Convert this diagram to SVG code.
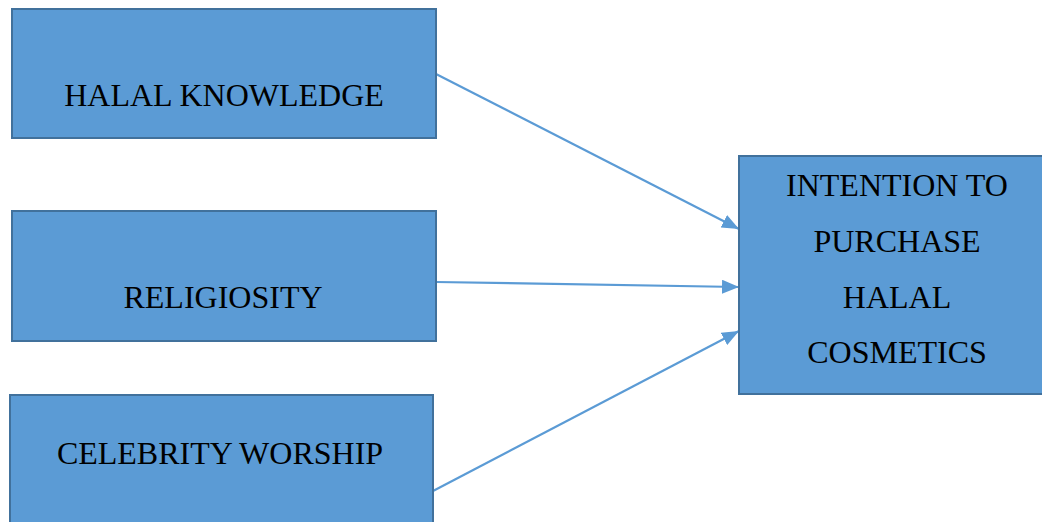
<svg xmlns="http://www.w3.org/2000/svg" width="1042" height="522" viewBox="0 0 1042 522">
<style>
.box{fill:#5B9BD5;stroke:#41719C;stroke-width:2}
.lbl{font-family:"Liberation Serif","Times New Roman",serif;font-size:32px;fill:#000;text-anchor:middle}
.edge{stroke:#5B9BD5;stroke-width:2.2;fill:none}
</style>
<defs>
<marker id="ah" markerUnits="userSpaceOnUse" markerWidth="18" markerHeight="14" refX="17" refY="7" orient="auto">
<path d="M0,0 L17,7 L0,14 Z" fill="#5B9BD5"/>
</marker>
</defs>
<rect width="1042" height="522" fill="#fff"/>
<g id="connectors">
<line class="edge" x1="436" y1="74" x2="739" y2="229" marker-end="url(#ah)"/>
<line class="edge" x1="436" y1="282" x2="739" y2="287" marker-end="url(#ah)"/>
<line class="edge" x1="433" y1="491" x2="739" y2="331" marker-end="url(#ah)"/>
</g>
<g id="halal-knowledge">
<rect class="box" x="12" y="9" width="424" height="129"/>
<text class="lbl" x="224" y="106">HALAL KNOWLEDGE</text>
</g>
<g id="religiosity">
<rect class="box" x="12" y="211" width="424" height="130"/>
<text class="lbl" x="223" y="308">RELIGIOSITY</text>
</g>
<g id="celebrity-worship">
<rect class="box" x="10" y="395" width="423" height="140"/>
<text class="lbl" x="220" y="464">CELEBRITY WORSHIP</text>
</g>
<g id="intention">
<rect class="box" x="739" y="156" width="310" height="238"/>
<text class="lbl" x="897" y="196">INTENTION TO</text>
<text class="lbl" x="897" y="252">PURCHASE</text>
<text class="lbl" x="897" y="308">HALAL</text>
<text class="lbl" x="897" y="363">COSMETICS</text>
</g>
</svg>
